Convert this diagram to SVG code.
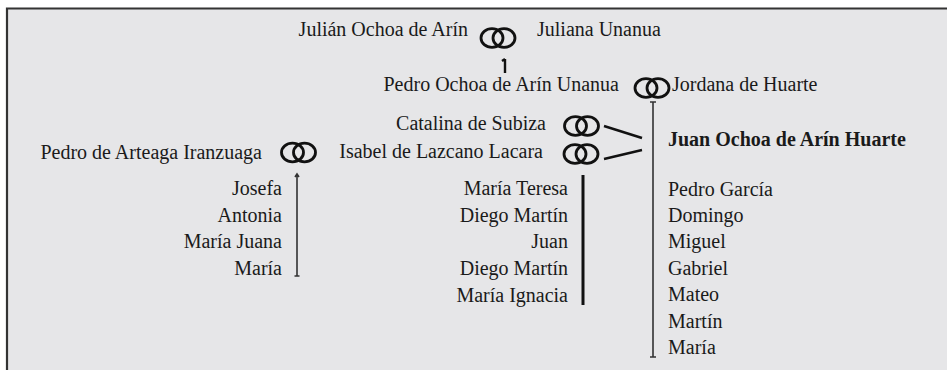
<svg xmlns="http://www.w3.org/2000/svg" width="947" height="370" viewBox="0 0 947 370">
<style>
text{font-family:"Liberation Serif","Times New Roman",serif;font-size:20px;fill:#1a1a1a}
.e{text-anchor:end}
.b{font-weight:bold}
.ring{fill:none;stroke:#111;stroke-width:2.8}
.thin{stroke:#333;stroke-width:1.6;fill:none}
.thick{stroke:#111;stroke-width:3;fill:none}
.ln{stroke:#111;stroke-width:2.4;fill:none}
</style>
<defs>
<g id="rings">
<ellipse class="ring" cx="-6" cy="0" rx="11" ry="9.3"/>
<ellipse class="ring" cx="6" cy="0" rx="11" ry="9.3"/>
</g>
</defs>
<rect x="0" y="0" width="947" height="370" fill="#ffffff"/>
<rect x="7" y="9" width="940" height="361" fill="#e6e6e8"/>
<path d="M7 370 V8.5 H947" fill="none" stroke="#333" stroke-width="2.2"/>

<g id="connectors">
<path class="ln" d="M505 59 V73 M502 61 L505 59"/>
<path class="thin" d="M653 102 V357 M650 102 H656 M650 357 H656"/>
<path class="thin" d="M297 175 V276 M295 177 L297 174 L299 177 M294.5 276 H299.5"/>
<path class="thick" d="M583 175 V305"/>
<path class="ln" d="M604 126 L642 138"/>
<path class="ln" d="M604 159 L642 150"/>
</g>

<g id="couple-julian">
<text class="e" x="468" y="36">Julián Ochoa de Arín</text>
<use href="#rings" x="498" y="38"/>
<text x="537" y="36">Juliana Unanua</text>
</g>

<g id="couple-pedro">
<text class="e" x="619" y="91">Pedro Ochoa de Arín Unanua</text>
<use href="#rings" x="652" y="88"/>
<text x="672" y="91">Jordana de Huarte</text>
</g>

<g id="node-catalina">
<text class="e" x="546" y="130">Catalina de Subiza</text>
<use href="#rings" x="581.5" y="126"/>
</g>

<g id="node-isabel">
<text class="e" x="543" y="158">Isabel de Lazcano Lacara</text>
<use href="#rings" x="581" y="154"/>
</g>

<g id="node-arteaga">
<text class="e" x="262" y="159">Pedro de Arteaga Iranzuaga</text>
<use href="#rings" x="298.5" y="152.5"/>
</g>

<g id="node-juan">
<text class="b" x="668" y="146">Juan Ochoa de Arín Huarte</text>
</g>

<g id="children-arteaga">
<text class="e" x="282" y="195">Josefa</text>
<text class="e" x="282" y="222">Antonia</text>
<text class="e" x="282" y="248">María Juana</text>
<text class="e" x="282" y="275">María</text>
</g>

<g id="children-isabel">
<text class="e" x="568" y="195">María Teresa</text>
<text class="e" x="568" y="222">Diego Martín</text>
<text class="e" x="568" y="248">Juan</text>
<text class="e" x="568" y="275">Diego Martín</text>
<text class="e" x="568" y="302">María Ignacia</text>
</g>

<g id="children-catalina">
<text x="668" y="196">Pedro García</text>
<text x="668" y="222">Domingo</text>
<text x="668" y="248">Miguel</text>
<text x="668" y="275">Gabriel</text>
<text x="668" y="301">Mateo</text>
<text x="668" y="328">Martín</text>
<text x="668" y="354">María</text>
</g>
</svg>
